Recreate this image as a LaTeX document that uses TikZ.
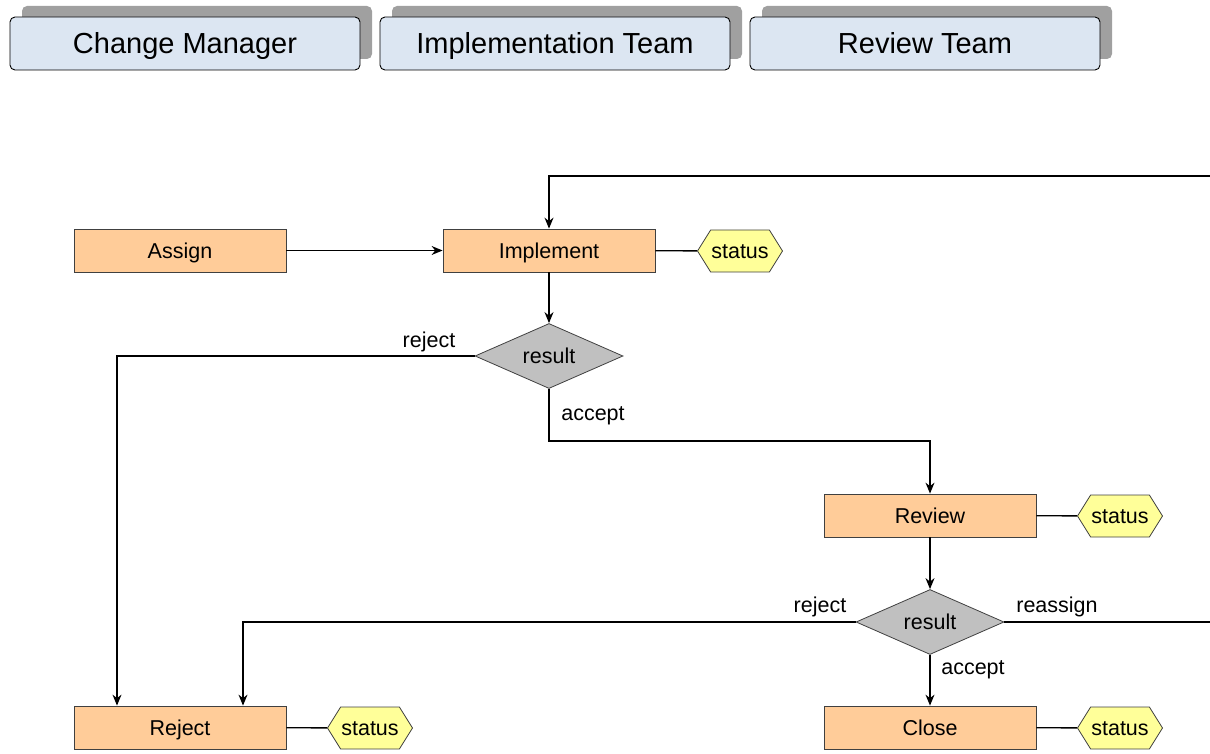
\documentclass[tikz,border=0pt]{standalone}
\usepackage{fontspec}
\setmainfont{Liberation Sans}
\usetikzlibrary{shapes.geometric,shapes.symbols,arrows.meta,shadows}

\definecolor{laneblue}{RGB}{220,230,242}
\definecolor{laneshadow}{RGB}{160,160,160}
\definecolor{peach}{RGB}{255,204,153}
\definecolor{decgray}{RGB}{192,192,192}
\definecolor{statyellow}{RGB}{255,255,153}
\definecolor{edgegray}{RGB}{64,64,64}

\begin{document}
\begin{tikzpicture}[x=1pt,y=-1pt,
  bodyfont/.style={font=\fontsize{21.5}{24}\selectfont, text height=15.4pt, text depth=0pt},
  lane/.style={draw=black, fill=laneblue, rounded corners=5pt, line width=0.9pt,
    minimum width=350pt, minimum height=53pt, inner sep=0pt,
    font=\fontsize{29}{32}\selectfont, text height=20.8pt, text depth=0pt,
    general shadow={shadow xshift=12pt, shadow yshift=11pt, fill=laneshadow, draw=none}},
  task/.style={draw=edgegray, fill=peach, line width=0.8pt, minimum width=212pt,
    minimum height=43pt, inner sep=0pt, bodyfont},
  decision/.style={diamond, draw=edgegray, fill=decgray, line width=0.8pt, aspect=2.28,
    minimum width=148pt, minimum height=65pt, inner sep=0pt, bodyfont},
  status/.style={signal, signal to=west and east, signal pointer angle=116,
    draw=edgegray, fill=statyellow, line width=0.8pt, minimum width=85pt,
    minimum height=42pt, inner sep=0pt, bodyfont},
  lbl/.style={inner sep=0pt, bodyfont},
  link/.style={draw=black, line width=1.3pt},
  flow/.style={link, -{Stealth[length=11pt,width=9pt]}}]

\useasboundingbox (0,0) rectangle (1210,754);
\clip (0,0) rectangle (1210,754);

% swimlane headers
\node[lane] (lane1) at (185,43.5) {Change Manager};
\node[lane] (lane2) at (555,43.5) {Implementation Team};
\node[lane] (lane3) at (925,43.5) {Review Team};

% tasks
\node[task] (assign) at (180,250.5) {Assign};
\node[task] (impl) at (549,250.5) {Implement};
\node[task] (review) at (930,515.5) {Review};
\node[task] (reject) at (180,727.5) {Reject};
\node[task] (close) at (930,727.5) {Close};

% decisions
\node[decision] (res1) at (549,356) {result};
\node[decision] (res2) at (930,622) {result};

% status tags
\node[status] (st1) at (740,251) {status};
\node[status] (st2) at (1120,516) {status};
\node[status] (st3) at (370,728) {status};
\node[status] (st4) at (1120,728) {status};

% loop back from the reassign branch, running off the right edge
\coordinate (loopB) at (1216,622);
\coordinate (loopT) at (1216,176);

% connectors
\draw[flow] (assign) -- (impl);
\draw[link] (impl) -- (st1);
\draw[link] (review) -- (st2);
\draw[link] (reject) -- (st3);
\draw[link] (close) -- (st4);
\draw[flow] (impl) -- (res1);
\draw[flow] (res1.west) -| ([xshift=-63pt]reject.north);
\draw[flow] (res1.south) -- ++(0,52) -| (review.north);
\draw[flow] (review) -- (res2);
\draw[flow] (res2.west) -| ([xshift=63pt]reject.north);
\draw[flow] (res2) -- (close);
\draw[flow] (res2.east) -- (loopB) -- (loopT) -- (loopT -| impl.north) -- (impl.north);

% branch labels
\node[lbl] at (429,340) {reject};
\node[lbl] at (593,413) {accept};
\node[lbl] at (820,605) {reject};
\node[lbl] at (1057,605) {reassign};
\node[lbl] at (973,667) {accept};
\end{tikzpicture}
\end{document}
